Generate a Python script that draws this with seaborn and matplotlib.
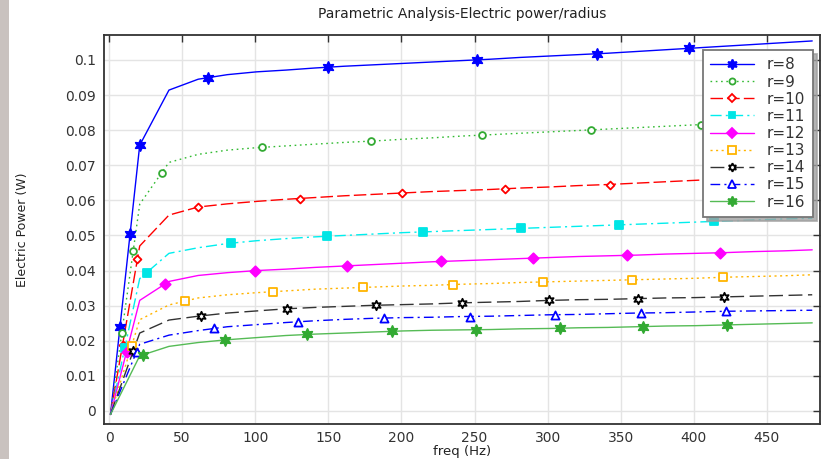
import numpy as np
import pandas as pd
import matplotlib.pyplot as plt
import seaborn as sns
from matplotlib.lines import Line2D
from matplotlib.patches import Rectangle

# ── data ────────────────────────────────────────────────────
freq = [1, 21, 41, 61, 81, 101, 121, 141, 161, 181, 201, 221, 241,
        261, 281, 301, 321, 341, 361, 381, 401, 421, 441, 461, 481]

p8  = [-0.001, 0.0757, 0.0914, 0.0945, 0.0958, 0.0966, 0.0971, 0.0977, 0.0982, 0.0986, 0.0990, 0.0994, 0.0998,
       0.1002, 0.1007, 0.1011, 0.1015, 0.1019, 0.1024, 0.1029, 0.1034, 0.1039, 0.1044, 0.1049, 0.1054]
p9  = [-0.001, 0.0589, 0.0708, 0.0731, 0.0743, 0.0750, 0.0755, 0.0760, 0.0765, 0.0769, 0.0774, 0.0778, 0.0783,
       0.0787, 0.0791, 0.0795, 0.0799, 0.0803, 0.0807, 0.0811, 0.0815, 0.0819, 0.0823, 0.0828, 0.0832]
p10 = [-0.001, 0.0470, 0.0558, 0.0581, 0.0590, 0.0597, 0.0603, 0.0608, 0.0613, 0.0617, 0.0621, 0.0625, 0.0628,
       0.0631, 0.0635, 0.0638, 0.0642, 0.0645, 0.0649, 0.0653, 0.0657, 0.0661, 0.0665, 0.0668, 0.0671]
p11 = [-0.001, 0.0377, 0.0449, 0.0465, 0.0477, 0.0485, 0.0491, 0.0496, 0.0500, 0.0504, 0.0508, 0.0511, 0.0514,
       0.0517, 0.0520, 0.0523, 0.0526, 0.0529, 0.0532, 0.0535, 0.0538, 0.0541, 0.0544, 0.0547, 0.0549]
p12 = [-0.001, 0.0315, 0.0369, 0.0386, 0.0394, 0.0400, 0.0404, 0.0409, 0.0413, 0.0417, 0.0421, 0.0425, 0.0428,
       0.0431, 0.0434, 0.0437, 0.0440, 0.0442, 0.0444, 0.0447, 0.0449, 0.0451, 0.0454, 0.0456, 0.0459]
p13 = [-0.001, 0.0260, 0.0302, 0.0322, 0.0331, 0.0337, 0.0342, 0.0347, 0.0350, 0.0353, 0.0356, 0.0358, 0.0361,
       0.0363, 0.0366, 0.0368, 0.0370, 0.0372, 0.0374, 0.0376, 0.0378, 0.0381, 0.0383, 0.0385, 0.0388]
p14 = [-0.001, 0.0222, 0.0259, 0.0270, 0.0279, 0.0285, 0.0291, 0.0295, 0.0298, 0.0301, 0.0303, 0.0305, 0.0308,
       0.0310, 0.0312, 0.0315, 0.0317, 0.0318, 0.0320, 0.0322, 0.0323, 0.0325, 0.0327, 0.0329, 0.0331]
p15 = [-0.001, 0.0190, 0.0216, 0.0229, 0.0240, 0.0246, 0.0252, 0.0257, 0.0261, 0.0264, 0.0266, 0.0267, 0.0269,
       0.0270, 0.0272, 0.0274, 0.0275, 0.0277, 0.0279, 0.0280, 0.0282, 0.0284, 0.0285, 0.0286, 0.0287]
p16 = [-0.001, 0.0157, 0.0184, 0.0195, 0.0203, 0.0209, 0.0215, 0.0219, 0.0222, 0.0225, 0.0228, 0.0230, 0.0231,
       0.0232, 0.0234, 0.0235, 0.0237, 0.0238, 0.0240, 0.0242, 0.0243, 0.0245, 0.0247, 0.0249, 0.0251]

# marker positions along each curve
mf8  = [7.5, 14.4, 21, 67.7, 150, 252, 334, 397]
mp8  = [0.0239, 0.0504, 0.0757, 0.0949, 0.0979, 0.1000, 0.1018, 0.1033]
mf9  = [8.7, 16.6, 36, 104.5, 179, 255, 330, 405]
mp9  = [0.0221, 0.0457, 0.0678, 0.0751, 0.0769, 0.0786, 0.0801, 0.0816]
mf10 = [9.3, 19.4, 60.8, 130.6, 200.6, 271, 342.7, 413]
mp10 = [0.0189, 0.0432, 0.0581, 0.0605, 0.0621, 0.0633, 0.0645, 0.0659]
mf11 = [10.8, 25.8, 83.4, 149, 215, 282, 349, 414]
mp11 = [0.0180, 0.0394, 0.0478, 0.0498, 0.0510, 0.0520, 0.0530, 0.0540]
mf12 = [12, 38.3, 100, 163, 227, 290, 354, 418]
mp12 = [0.0169, 0.0362, 0.0400, 0.0413, 0.0426, 0.0435, 0.0443, 0.0451]
mf13 = [15.5, 52, 112, 174, 235, 296.6, 358, 420]
mp13 = [0.0186, 0.0313, 0.0340, 0.0352, 0.0360, 0.0368, 0.0374, 0.0381]
mf14 = [16.6, 62.7, 122, 182.4, 241.7, 301, 361.6, 420.9]
mp14 = [0.0171, 0.0271, 0.0291, 0.0301, 0.0308, 0.0315, 0.0320, 0.0325]
mf15 = [18.9, 71.8, 129, 188.3, 247, 305, 363.7, 422]
mp15 = [0.0169, 0.0235, 0.0254, 0.0265, 0.0269, 0.0274, 0.0279, 0.0284]
mf16 = [23.5, 79, 135.6, 193.4, 250.8, 308.5, 365.5, 423]
mp16 = [0.0160, 0.0202, 0.0218, 0.0227, 0.0231, 0.0235, 0.0240, 0.0245]

labels = ['r=8', 'r=9', 'r=10', 'r=11', 'r=12', 'r=13', 'r=14', 'r=15', 'r=16']
xticks = [0, 50, 100, 150, 200, 250, 300, 350, 400, 450]
yticks = [0, 0.01, 0.02, 0.03, 0.04, 0.05, 0.06, 0.07, 0.08, 0.09, 0.1]
ytick_labels = ['0', '0.01', '0.02', '0.03', '0.04', '0.05', '0.06', '0.07', '0.08', '0.09', '0.1']

# ── styles ──────────────────────────────────────────────────
STAR = (6, 1, 0)
styles = [
    # line colour, dashes, marker, size, face, edge
    ('#0000ff', (None, None),    STAR, 64, '#0000ff', '#0000ff'),
    ('#33bb33', (1.2, 2.6),      'o',  24, 'white',   '#33aa33'),
    ('#ff0000', (9, 3),          'D',  16, 'white',   '#ff0000'),
    ('#00eeee', (8, 3, 1.5, 3),  's',  26, '#00e5e5', '#00e5e5'),
    ('#ff00ff', (None, None),    'D',  28, '#ff00ff', '#ff00ff'),
    ('#ffb400', (1.5, 2.5),      's',  36, 'white',   '#ffb400'),
    ('#333333', (10, 4),         STAR, 46, 'white',   '#000000'),
    ('#0000ff', (7, 3, 1.5, 3),  '^',  34, 'white',   '#0000ff'),
    ('#55bb55', (None, None),    STAR, 64, '#33aa33', '#33aa33'),
]
curves = [p8, p9, p10, p11, p12, p13, p14, p15, p16]
mfreqs = [mf8, mf9, mf10, mf11, mf12, mf13, mf14, mf15, mf16]
mpows  = [mp8, mp9, mp10, mp11, mp12, mp13, mp14, mp15, mp16]

sns.set_style('white')
plt.rcParams['font.family'] = ['DejaVu Sans']

fig = plt.figure(figsize=(8.27, 4.59), dpi=100)
ax = fig.add_axes([0.1258, 0.0763, 0.8657, 0.8475])

# grey strip on the left edge of the picture
fig.add_artist(Rectangle((0, 0), 9 / 827, 1, transform=fig.transFigure,
                         facecolor='#c9c2bf', edgecolor='none'))

handles = []
for lab, pw, mf, mp, (col, dash, mk, ms, fc, ec) in zip(labels, curves, mfreqs, mpows, styles):
    df = pd.DataFrame({'freq': freq, 'power': pw})
    line_kw = dict(color=col, lw=1.0, estimator=None, sort=False)
    if dash[0] is None:
        sns.lineplot(data=df, x='freq', y='power', ax=ax, linestyle='-', **line_kw)
    else:
        sns.lineplot(data=df, x='freq', y='power', ax=ax, dashes=dash, **line_kw)
    mdf = pd.DataFrame({'freq': mf, 'power': mp})
    sns.scatterplot(data=mdf, x='freq', y='power', ax=ax, marker=mk, s=ms,
                    color=ec, facecolor=fc, edgecolor=ec, linewidth=1.3, zorder=3)
    h = Line2D([], [], color=col, lw=1.0, marker=mk, markersize=np.sqrt(ms) * 0.9,
               markerfacecolor=fc, markeredgecolor=ec, markeredgewidth=1.3)
    if dash[0] is not None:
        h.set_dashes(dash)
    handles.append(h)

ax.set_xlim(-3.4, 486.3)
ax.set_ylim(-0.0037, 0.1071)
ax.set_xticks(xticks)
ax.set_yticks(yticks)
ax.set_yticklabels(ytick_labels)
ax.grid(True, color='#e4e4e4', lw=1.0, zorder=0)
ax.set_axisbelow(True)
ax.tick_params(direction='in', top=True, right=True, length=5, width=1,
               labelsize=10, labelcolor='#333333', color='#333333', pad=6)
ax.tick_params(axis='x', pad=5)
for sp in ax.spines.values():
    sp.set_color('#333333')
    sp.set_linewidth(1.3)

ax.set_title('Parametric Analysis-Electric power/radius', fontsize=10, color='#222222', pad=12)
ax.set_xlabel('freq (Hz)', fontsize=9.5, color='#222222')
ax.xaxis.set_label_coords(0.5, -0.055)
ax.set_ylabel('Electric Power (W)', fontsize=9, color='#222222', labelpad=26)

leg = ax.legend(handles, labels, loc='upper right', bbox_to_anchor=(0.990, 0.962),
                borderaxespad=0, fontsize=11, handlelength=2.9, labelspacing=0.14,
                borderpad=0.5, handletextpad=0.8,
                fancybox=False, shadow={'color': '#a0a0a0', 'alpha': 0.8, 'ox': 3, 'oy': -3},
                framealpha=1, edgecolor='#777777')
leg.get_frame().set_linewidth(1.3)
for t in leg.get_texts():
    t.set_color('#333333')

plt.savefig('out.png', dpi=100)
plt.close()
